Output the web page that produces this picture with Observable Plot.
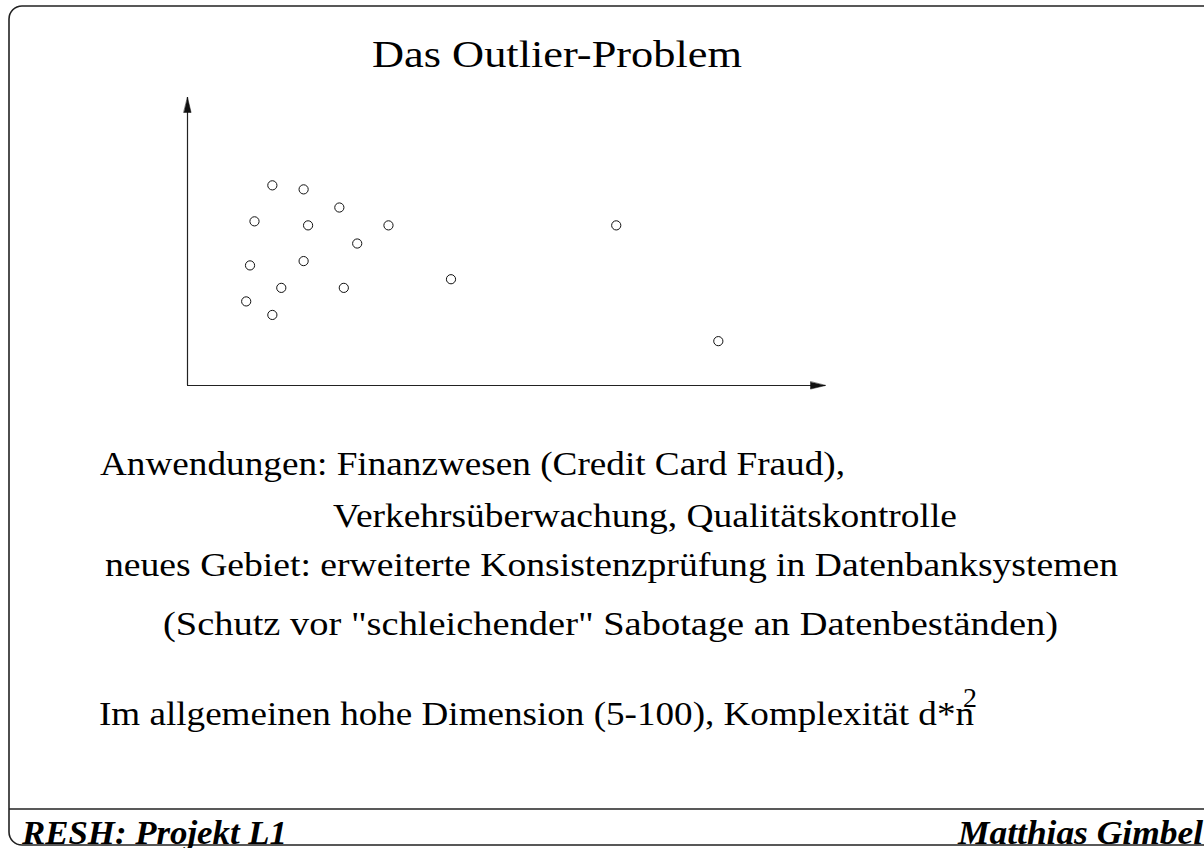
<!DOCTYPE html>
<html>
<head>
<meta charset="utf-8">
<script src="https://cdn.jsdelivr.net/npm/d3@7"></script>
<script src="https://cdn.jsdelivr.net/npm/@observablehq/plot@0.6"></script>
<style>
  html, body { margin: 0; padding: 0; background: #fff; }
  #chart { width: 1204px; height: 848px; overflow: hidden; }
</style>
</head>
<body>
<div id="chart"></div>
<script>
// Scatter data (axis units: 0..100 along each drawn axis)
const pointX = [13.3, 18.2, 23.8, 10.5, 18.9, 31.5, 67.2, 26.6, 9.8, 18.2, 41.3, 14.7, 24.5, 9.2, 13.3, 83.2];
const pointY = [69.5, 68.1, 61.8, 57.0, 55.6, 55.6, 55.6, 49.3, 41.7, 43.2, 36.9, 33.9, 33.9, 29.2, 24.5, 15.4];

// Texts
const titleText = "Das Outlier-Problem";
const bodyLines = [
  "Anwendungen: Finanzwesen (Credit Card Fraud),",
  "Verkehrsüberwachung, Qualitätskontrolle",
  "neues Gebiet: erweiterte Konsistenzprüfung in Datenbanksystemen",
  "(Schutz vor \"schleichender\" Sabotage an Datenbeständen)",
  "Im allgemeinen hohe Dimension (5-100), Komplexität d*n"
];
const superscriptText = "2";
const footerLeft = "RESH: Projekt L1";
const footerRight = "Matthias Gimbel";

const points = pointX.map((x, i) => ({x, y: pointY[i]}));
const axisEnds = [{x: 100, y: 0, rotate: 90}, {x: 0, y: 100, rotate: 0}];

const arrowHead = {
  draw(context, l) {
    context.moveTo(0, -l);
    context.lineTo(3.6, 0);
    context.lineTo(-3.6, 0);
    context.closePath();
  }
};

const plot = Plot.plot({
  width: 1204,
  height: 848,
  marginLeft: 187,
  marginRight: 379,
  marginTop: 97,
  marginBottom: 463,
  x: {domain: [0, 100], axis: null},
  y: {domain: [0, 100], axis: null},
  marks: [
    Plot.ruleY([0], {stroke: "#222", strokeWidth: 1.2}),
    Plot.ruleX([0], {stroke: "#222", strokeWidth: 1.2}),
    Plot.vector(axisEnds, {x: "x", y: "y", rotate: "rotate", length: 15, anchor: "end", shape: arrowHead, fill: "#111", stroke: "#111", strokeWidth: 0.5}),
    Plot.dot(points, {x: "x", y: "y", r: 4.6, stroke: "#111", strokeWidth: 1, fill: "none"})
  ]
});

document.getElementById("chart").appendChild(plot);

const svg = d3.select(plot);

// slide border and footer rule
svg.append("rect")
  .attr("x", 9).attr("y", 6).attr("width", 1300).attr("height", 839)
  .attr("rx", 13).attr("ry", 13)
  .attr("fill", "none").attr("stroke", "#222").attr("stroke-width", 1.6);
svg.append("line")
  .attr("x1", 9).attr("x2", 1204).attr("y1", 809).attr("y2", 809)
  .attr("stroke", "#222").attr("stroke-width", 1.6);

function addText(str, x, y, size, len, opts = {}) {
  const t = svg.append("text")
    .attr("x", x).attr("y", y)
    .style("font-family", "'Liberation Serif', serif")
    .style("text-anchor", "start")
    .style("font-size", size + "px")
    .attr("fill", "#000")
    .text(str);
  if (len) t.attr("textLength", len).attr("lengthAdjust", "spacingAndGlyphs");
  if (opts.bold) t.style("font-weight", "bold");
  if (opts.italic) t.style("font-style", "italic");
  return t;
}

addText(titleText, 372, 67, 37, 370);
addText(bodyLines[0], 100, 475, 34, 745);
addText(bodyLines[1], 333, 527, 34, 624);
addText(bodyLines[2], 105, 576, 34, 1013);
addText(bodyLines[3], 163, 635, 34, 895);
addText(bodyLines[4], 99, 725, 34, 875);
addText(superscriptText, 963, 707, 28, null);
addText(footerLeft, 22, 844, 34, 265, {bold: true, italic: true});
addText(footerRight, 958, 844, 34, 245, {bold: true, italic: true});
</script>
</body>
</html>
